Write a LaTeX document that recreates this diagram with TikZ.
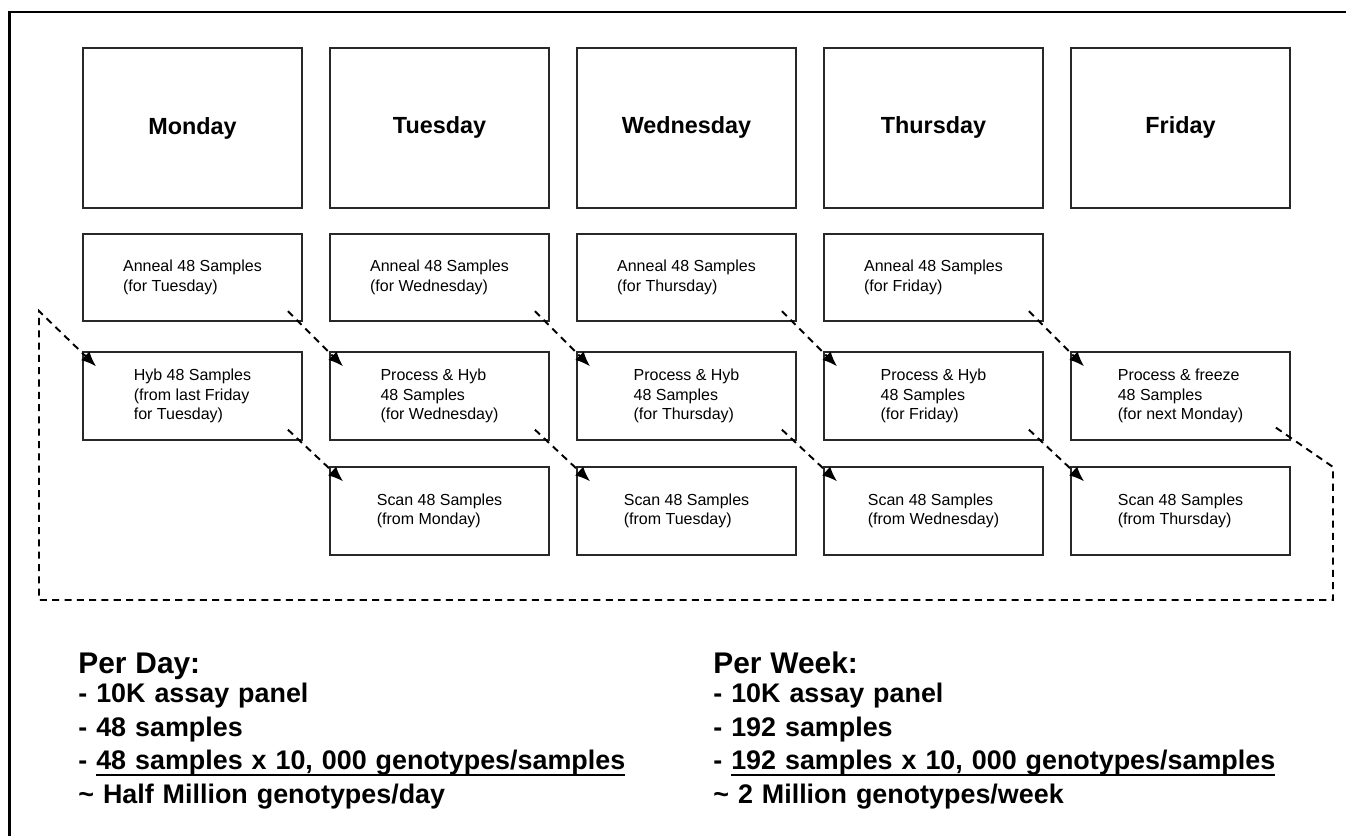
\documentclass[tikz,border=0pt]{standalone}
\usepackage{fontspec}
\setmainfont{Liberation Sans}
\usetikzlibrary{arrows.meta}
\definecolor{boxline}{RGB}{40, 40, 40}

\newsavebox\ulbox
\newcommand\ulline[1]{\sbox\ulbox{#1}\rlap{\rule[-3.4pt]{\wd\ulbox}{1.1pt}}\usebox\ulbox}

\begin{document}
\begin{tikzpicture}
  [
    frame/.style={line width=1.7pt},
    day/.style={draw=boxline, line width=1pt, minimum width=4.38cm, minimum height=3.2cm,
      font=\fontsize{13.3pt}{16pt}\selectfont\bfseries},
    task/.style={draw=boxline, line width=1pt, minimum width=4.38cm, minimum height=1.75cm,
      align=left, font=\fontsize{9.1pt}{11pt}\selectfont},
    link/.style={line width=1.1pt, dash pattern=on 4pt off 3pt, ->,
      >={Latex[length=3mm, width=2.4mm]}},
    summary/.style={anchor=base west, inner sep=0pt, text width=12cm, align=left,
      font=\fontsize{15.3pt}{19pt}\selectfont\bfseries}
  ]
  \useasboundingbox (0, 0) rectangle (26.92, 16.7);
  \draw[frame] (0.19, -1.0) -- (0.19, 16.46) -- (28.0, 16.46);

  % days
  \node[day] (mon) at (3.85, 14.14)  {Monday};
  \node[day] (tue) at (8.79, 14.14)  {\raisebox{0.1cm}{Tuesday}};
  \node[day] (wed) at (13.73, 14.14) {\raisebox{0.1cm}{Wednesday}};
  \node[day] (thu) at (18.67, 14.14) {\raisebox{0.1cm}{Thursday}};
  \node[day] (fri) at (23.61, 14.14) {\raisebox{0.1cm}{Friday}};

  % anneal
  \node[task] (anMon) at (3.85, 11.15)  {Anneal 48 Samples\\(for Tuesday)};
  \node[task] (anTue) at (8.79, 11.15)  {Anneal 48 Samples\\(for Wednesday)};
  \node[task] (anWed) at (13.73, 11.15) {Anneal 48 Samples\\(for Thursday)};
  \node[task] (anThu) at (18.67, 11.15) {Anneal 48 Samples\\(for Friday)};

  % hyb
  \node[task] (hyMon) at (3.85, 8.78)  {Hyb 48 Samples\\(from last Friday\\for Tuesday)};
  \node[task] (hyTue) at (8.79, 8.78)  {Process \& Hyb\\48 Samples\\(for Wednesday)};
  \node[task] (hyWed) at (13.73, 8.78) {Process \& Hyb\\48 Samples\\(for Thursday)};
  \node[task] (hyThu) at (18.67, 8.78) {Process \& Hyb\\48 Samples\\(for Friday)};
  \node[task] (hyFri) at (23.61, 8.78) {Process \& freeze\\48 Samples\\(for next Monday)};

  % scan
  \node[task] (scTue) at (8.79, 6.48)  {Scan 48 Samples\\(from Monday)};
  \node[task] (scWed) at (13.73, 6.48) {Scan 48 Samples\\(from Tuesday)};
  \node[task] (scThu) at (18.67, 6.48) {Scan 48 Samples\\(from Wednesday)};
  \node[task] (scFri) at (23.61, 6.48) {Scan 48 Samples\\(from Thursday)};

  \draw[link] ([shift={(-0.3, 0.22)}]anMon.south east) -- ([shift={(0.28, -0.3)}]hyTue.north west);
  \draw[link] ([shift={(-0.3, 0.22)}]anTue.south east) -- ([shift={(0.28, -0.3)}]hyWed.north west);
  \draw[link] ([shift={(-0.3, 0.22)}]anWed.south east) -- ([shift={(0.28, -0.3)}]hyThu.north west);
  \draw[link] ([shift={(-0.3, 0.22)}]anThu.south east) -- ([shift={(0.28, -0.3)}]hyFri.north west);

  \draw[link] ([shift={(-0.3, 0.22)}]hyMon.south east) -- ([shift={(0.28, -0.3)}]scTue.north west);
  \draw[link] ([shift={(-0.3, 0.22)}]hyTue.south east) -- ([shift={(0.28, -0.3)}]scWed.north west);
  \draw[link] ([shift={(-0.3, 0.22)}]hyWed.south east) -- ([shift={(0.28, -0.3)}]scThu.north west);
  \draw[link] ([shift={(-0.3, 0.22)}]hyThu.south east) -- ([shift={(0.28, -0.3)}]scFri.north west);

  % back to monday
  \coordinate (loopNE) at (26.66, 7.36);
  \coordinate (loopSE) at (26.66, 4.70);
  \coordinate (loopSW) at (0.78, 4.70);
  \coordinate (loopNW) at (0.78, 10.48);
  \draw[link] ([shift={(-0.3, 0.26)}]hyFri.south east) -- (loopNE) -- (loopSE)
    -- (loopSW) -- (loopNW) -- ([shift={(0.28, -0.3)}]hyMon.north west);

  \node[summary] (perday) at (1.56, 3.24)
    {{\fontsize{17pt}{19pt}\selectfont Per Day:}\\[-2pt]
     - 10K assay panel\\
     - 48 samples\\
     - \ulline{48 samples x 10, 000 genotypes/samples}\\
     \textasciitilde{} Half Million genotypes/day};
  \node[summary] (perweek) at (14.26, 3.24)
    {{\fontsize{17pt}{19pt}\selectfont Per Week:}\\[-2pt]
     - 10K assay panel\\
     - 192 samples\\
     - \ulline{192 samples x 10, 000 genotypes/samples}\\
     \textasciitilde{} 2 Million genotypes/week};
\end{tikzpicture}
\end{document}
